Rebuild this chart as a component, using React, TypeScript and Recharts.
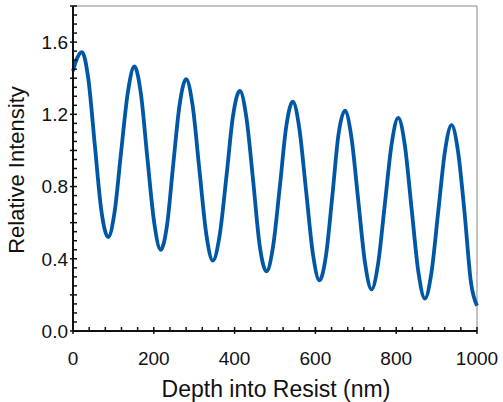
import { LineChart, Line, XAxis, YAxis, ReferenceLine } from "recharts";

// depth (nm) and relative intensity
const depth = [
  0, 10, 22, 38, 54, 70, 87, 103, 119, 136, 152, 168, 184, 201, 217, 233, 248,
  264, 280, 296, 313, 330, 346, 363, 380, 396, 413, 429, 446, 462, 479, 495,
  512, 528, 544, 560, 577, 594, 610, 626, 642, 657, 673, 689, 706, 723, 739,
  755, 772, 789, 805, 821, 838, 855, 871, 887, 904, 921, 937, 953, 969, 985,
  1000,
];
const intensity = [
  1.44, 1.51, 1.545, 1.395, 1.03, 0.67, 0.52, 0.66, 0.99, 1.325, 1.465, 1.315,
  0.96, 0.6, 0.45, 0.59, 0.92, 1.255, 1.395, 1.25, 0.89, 0.535, 0.39, 0.53,
  0.86, 1.19, 1.33, 1.185, 0.83, 0.475, 0.33, 0.465, 0.8, 1.135, 1.27, 1.125,
  0.775, 0.425, 0.28, 0.415, 0.75, 1.085, 1.22, 1.075, 0.725, 0.375, 0.23,
  0.37, 0.705, 1.04, 1.18, 1.035, 0.68, 0.325, 0.18, 0.32, 0.66, 1.0, 1.14,
  0.995, 0.66, 0.27, 0.14,
];

const xTicks = [
  0, 40, 80, 120, 160, 200, 240, 280, 320, 360, 400, 440, 480, 520, 560, 600,
  640, 680, 720, 760, 800, 840, 880, 920, 960, 1000,
];
const xLabels = [0, 200, 400, 600, 800, 1000];

const yTicks = [
  0, 0.05, 0.1, 0.15, 0.2, 0.25, 0.3, 0.35, 0.4, 0.45, 0.5, 0.55, 0.6, 0.65,
  0.7, 0.75, 0.8, 0.85, 0.9, 0.95, 1.0, 1.05, 1.1, 1.15, 1.2, 1.25, 1.3, 1.35,
  1.4, 1.45, 1.5, 1.55, 1.6, 1.65, 1.7, 1.75, 1.8,
];
const yCross = [0, 0.2, 0.4, 0.6, 0.8, 1.0, 1.2, 1.4, 1.6, 1.8];
const yLabels = [0, 0.4, 0.8, 1.2, 1.6];

const data = depth.map((d, i) => ({ x: d, y: intensity[i] }));

const FONT = "'Liberation Sans', Arial, sans-serif";
const near = (a: number, list: number[]) => list.some((v) => Math.abs(v - a) < 1e-6);

const XTick = (props: any) => {
  const { x, y, payload } = props;
  const v = payload.value;
  const major = near(v, xLabels);
  return (
    <g>
      <line x1={x} x2={x} y1={y - 4} y2={major ? y + 3 : y} stroke="#111" strokeWidth={1.5} />
      {major && (
        <text x={x} y={y + 34} textAnchor="middle" fontSize={19} fontFamily={FONT} fill="#111">
          {v}
        </text>
      )}
    </g>
  );
};

const YTick = (props: any) => {
  const { x, y, payload } = props;
  const v = payload.value;
  const cross = near(v, yCross);
  const label = near(v, yLabels);
  return (
    <g>
      <line x1={cross ? x - 3 : x} x2={x + 4} y1={y} y2={y} stroke="#111" strokeWidth={1.5} />
      {label && (
        <text x={x - 5} y={y} dy="0.36em" textAnchor="end" fontSize={19} fontFamily={FONT} fill="#111">
          {v.toFixed(1)}
        </text>
      )}
    </g>
  );
};

export default function App() {
  return (
    <div style={{ position: "absolute", left: 0, top: 0, width: 503, height: 402, background: "#fff" }}>
      <LineChart width={503} height={402} data={data} margin={{ top: 6, right: 26, left: 0, bottom: 0 }}>
        <XAxis
          type="number"
          dataKey="x"
          domain={[0, 1000]}
          ticks={xTicks}
          interval={0}
          height={71}
          tickSize={0}
          tickMargin={0}
          tickLine={false}
          axisLine={{ stroke: "#111", strokeWidth: 2 }}
          tick={(p: any) => <XTick {...p} />}
        />
        <YAxis
          type="number"
          domain={[0, 1.8]}
          ticks={yTicks}
          interval={0}
          width={73}
          tickSize={0}
          tickMargin={0}
          tickLine={false}
          axisLine={{ stroke: "#111", strokeWidth: 2 }}
          tick={(p: any) => <YTick {...p} />}
        />
        <ReferenceLine y={1.8} stroke="#888" strokeWidth={1} />
        <ReferenceLine x={1000} stroke="#888" strokeWidth={1} />
        <Line
          type="monotone"
          dataKey="y"
          stroke="#0057a6"
          strokeWidth={3.8}
          dot={false}
          isAnimationActive={false}
        />
      </LineChart>
      <svg width={503} height={402} style={{ position: "absolute", left: 0, top: 0, pointerEvents: "none" }}>
        <text x={276} y={397} textAnchor="middle" fontSize={23} fontFamily={FONT} fill="#111">
          Depth into Resist (nm)
        </text>
        <text
          x={24}
          y={170}
          textAnchor="middle"
          fontSize={22}
          fontFamily={FONT}
          fill="#111"
          transform="rotate(-90, 24, 170)"
        >
          Relative Intensity
        </text>
      </svg>
    </div>
  );
}
